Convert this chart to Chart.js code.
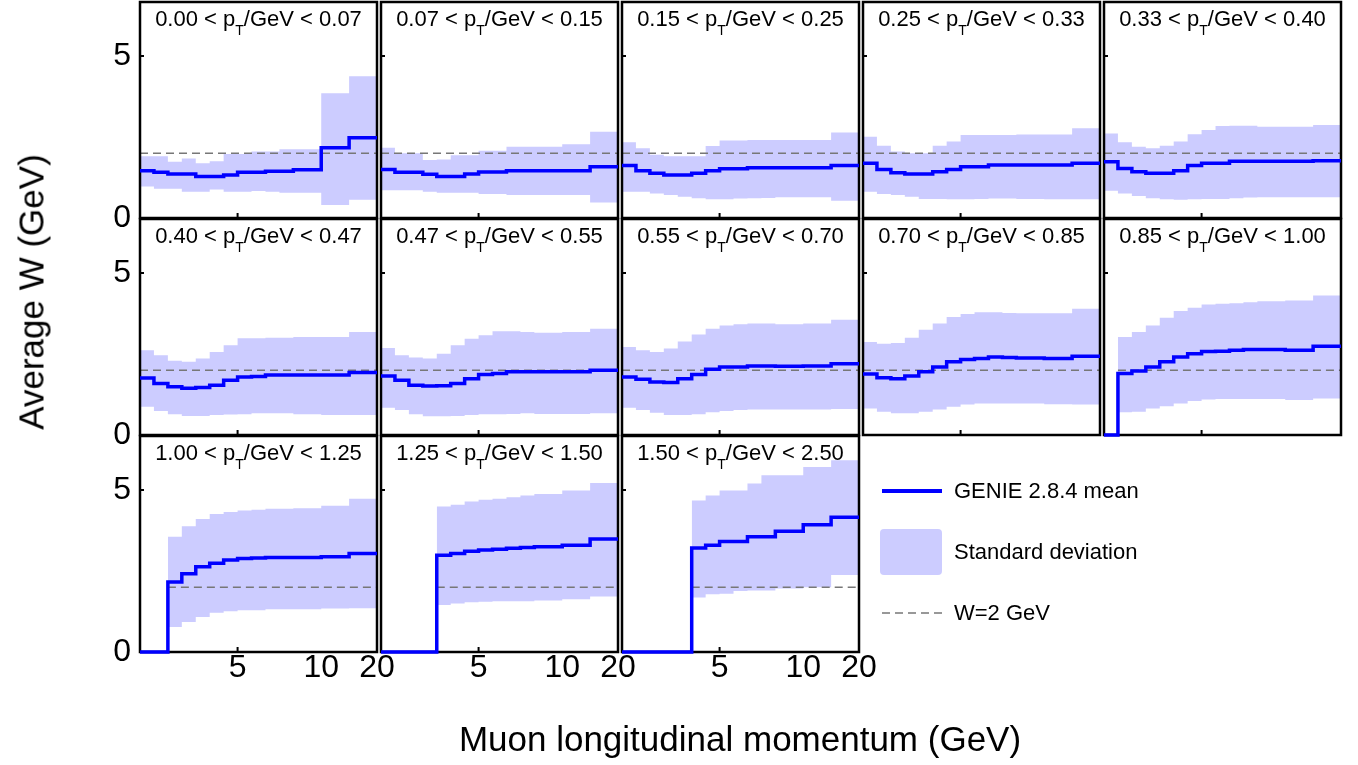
<!DOCTYPE html>
<html>
<head>
<meta charset="utf-8">
<script src="https://cdn.jsdelivr.net/npm/chart.js@4.4.1/dist/chart.umd.min.js"></script>
<style>
  body { margin: 0; background: #fff; font-family: "Liberation Sans", Arial, sans-serif; }
  #wrap { position: relative; width: 1358px; height: 765px; overflow: hidden; }
  #wrap canvas { position: absolute; left: 0; top: 0; }
  .ptitle { position: absolute; text-align: center; font-size: 22px; line-height: 22px; white-space: nowrap; color: #000; }
  .ptitle .sub { font-size: 14px; vertical-align: -9px; }
  .axtitle { position: absolute; font-size: 35px; line-height: 1; white-space: nowrap; color: #000; }
  .legtext { position: absolute; font-size: 22px; line-height: 22px; white-space: nowrap; color: #000; }
</style>
</head>
<body>
<div id="wrap"></div>
<script>
// pT slices (GeV), one panel per slice
const ptEdges = ['0.00', '0.07', '0.15', '0.25', '0.33', '0.40', '0.47', '0.55', '0.70', '0.85', '1.00', '1.25', '1.50', '2.50'];
// p|| bin boundaries on the plotted (compressed) axis, 14 bins
const binEdges = [0, 1, 2, 3, 4, 5, 6, 7, 8, 9, 10, 11, 13, 15, 17];
const xTickValues = [7, 13, 17];
const xTickLabels = ['5', '10', '20'];
const yTickValues = [0, 5];
const wLine = 2; // W = 2 GeV reference

// GENIE mean W per p|| bin, one row per pT slice (0 = empty bin)
const meanW = [
  [1.46, 1.41, 1.36, 1.36, 1.28, 1.28, 1.33, 1.41, 1.41, 1.44, 1.44, 1.49, 2.17, 2.48],
  [1.50, 1.41, 1.41, 1.35, 1.28, 1.28, 1.36, 1.42, 1.42, 1.46, 1.46, 1.46, 1.46, 1.58],
  [1.62, 1.46, 1.38, 1.33, 1.33, 1.38, 1.46, 1.52, 1.52, 1.55, 1.55, 1.55, 1.55, 1.62],
  [1.69, 1.50, 1.40, 1.36, 1.36, 1.43, 1.50, 1.58, 1.58, 1.64, 1.64, 1.64, 1.64, 1.69],
  [1.74, 1.53, 1.43, 1.38, 1.38, 1.46, 1.62, 1.69, 1.69, 1.75, 1.75, 1.75, 1.75, 1.77],
  [1.76, 1.59, 1.49, 1.44, 1.47, 1.54, 1.69, 1.79, 1.81, 1.85, 1.85, 1.85, 1.85, 1.93],
  [1.82, 1.69, 1.54, 1.51, 1.52, 1.59, 1.74, 1.87, 1.90, 1.95, 1.95, 1.95, 1.95, 2.00],
  [1.79, 1.72, 1.64, 1.62, 1.74, 1.87, 2.03, 2.10, 2.10, 2.13, 2.13, 2.12, 2.13, 2.20],
  [1.88, 1.77, 1.74, 1.82, 1.95, 2.10, 2.26, 2.33, 2.36, 2.41, 2.39, 2.38, 2.36, 2.43],
  [0, 1.90, 1.98, 2.10, 2.26, 2.41, 2.51, 2.58, 2.59, 2.62, 2.64, 2.64, 2.62, 2.74],
  [0, 0, 2.16, 2.42, 2.63, 2.74, 2.84, 2.89, 2.90, 2.92, 2.92, 2.92, 2.94, 3.04],
  [0, 0, 0, 0, 2.99, 3.04, 3.11, 3.15, 3.17, 3.20, 3.23, 3.25, 3.30, 3.49],
  [0, 0, 0, 0, 0, 3.21, 3.30, 3.41, 3.41, 3.56, 3.56, 3.73, 3.93, 4.16]
];

// mean + 1 standard deviation
const sdHigh = [
  [1.91, 1.91, 1.74, 1.84, 1.69, 1.75, 1.98, 1.98, 2.05, 2.05, 2.12, 2.12, 3.85, 4.38],
  [2.17, 2.00, 2.00, 1.79, 1.81, 1.94, 1.94, 2.08, 2.08, 2.20, 2.20, 2.20, 2.28, 2.66],
  [2.34, 2.15, 1.95, 1.91, 1.91, 1.91, 2.22, 2.39, 2.39, 2.41, 2.41, 2.41, 2.41, 2.64],
  [2.51, 2.23, 2.05, 2.00, 2.00, 2.23, 2.36, 2.56, 2.56, 2.56, 2.56, 2.58, 2.58, 2.77],
  [2.61, 2.34, 2.20, 2.15, 2.23, 2.36, 2.59, 2.72, 2.84, 2.85, 2.85, 2.82, 2.82, 2.87],
  [2.62, 2.46, 2.29, 2.26, 2.36, 2.56, 2.77, 2.99, 2.99, 3.00, 3.00, 3.03, 3.03, 3.18],
  [2.69, 2.46, 2.39, 2.36, 2.51, 2.77, 2.97, 3.08, 3.20, 3.20, 3.18, 3.16, 3.18, 3.28],
  [2.72, 2.62, 2.56, 2.67, 2.89, 3.10, 3.28, 3.38, 3.42, 3.44, 3.44, 3.42, 3.44, 3.56],
  [2.87, 2.82, 2.84, 3.00, 3.25, 3.44, 3.64, 3.74, 3.79, 3.79, 3.77, 3.76, 3.76, 3.90],
  [null, 3.03, 3.18, 3.38, 3.62, 3.83, 3.93, 4.03, 4.05, 4.07, 4.10, 4.13, 4.15, 4.31],
  [null, null, 3.56, 3.88, 4.11, 4.26, 4.32, 4.37, 4.39, 4.42, 4.42, 4.44, 4.52, 4.73],
  [null, null, null, null, 4.49, 4.55, 4.65, 4.70, 4.73, 4.78, 4.83, 4.88, 4.99, 5.22],
  [null, null, null, null, null, 4.68, 4.83, 4.99, 4.99, 5.20, 5.46, 5.46, 5.71, 5.92]
];

// mean - 1 standard deviation
const sdLow = [
  [0.97, 0.90, 0.90, 0.81, 0.81, 0.88, 0.81, 0.81, 0.83, 0.81, 0.78, 0.78, 0.40, 0.56],
  [0.86, 0.86, 0.86, 0.81, 0.78, 0.78, 0.78, 0.74, 0.74, 0.71, 0.71, 0.71, 0.71, 0.48],
  [0.81, 0.81, 0.76, 0.71, 0.66, 0.61, 0.58, 0.58, 0.60, 0.61, 0.62, 0.64, 0.64, 0.53],
  [0.81, 0.74, 0.71, 0.66, 0.59, 0.59, 0.58, 0.58, 0.59, 0.60, 0.60, 0.59, 0.58, 0.58],
  [0.84, 0.76, 0.68, 0.61, 0.58, 0.56, 0.58, 0.59, 0.59, 0.61, 0.63, 0.64, 0.64, 0.64],
  [0.87, 0.74, 0.64, 0.59, 0.59, 0.62, 0.63, 0.64, 0.67, 0.67, 0.67, 0.64, 0.62, 0.62],
  [0.84, 0.77, 0.64, 0.58, 0.58, 0.59, 0.62, 0.64, 0.64, 0.65, 0.67, 0.65, 0.65, 0.67],
  [0.84, 0.77, 0.69, 0.62, 0.62, 0.64, 0.70, 0.74, 0.77, 0.79, 0.79, 0.79, 0.79, 0.80],
  [0.82, 0.72, 0.67, 0.67, 0.72, 0.79, 0.87, 0.94, 0.97, 0.97, 0.97, 0.97, 0.95, 0.94],
  [null, 0.70, 0.72, 0.82, 0.89, 0.97, 1.05, 1.10, 1.11, 1.11, 1.11, 1.11, 1.08, 1.13],
  [null, null, 0.77, 0.93, 1.08, 1.21, 1.26, 1.29, 1.29, 1.32, 1.32, 1.32, 1.34, 1.35],
  [null, null, null, null, 1.45, 1.50, 1.54, 1.55, 1.57, 1.57, 1.57, 1.59, 1.63, 1.71],
  [null, null, null, null, null, 1.68, 1.78, 1.80, 1.88, 1.90, 1.90, 1.96, 2.00, 2.38]
];

const PAGE_W = 1358, PAGE_H = 765;
const PANEL_W = 237, PANEL_H = 216;
const COL0 = 140, ROW0 = 2, COL_STEP = 241, ROW_STEP = 217;
const Y_MAX = 6.67;
const FONT = '"Liberation Sans", Arial, sans-serif';

const wrap = document.getElementById('wrap');

// histogram-style points: left edge of each bin, plus closing point at the last edge
function stepPoints(vals) {
  const pts = vals.map((v, i) => ({ x: binEdges[i], y: v }));
  pts.push({ x: binEdges[vals.length], y: vals[vals.length - 1] });
  return pts;
}

const panelFrame = {
  id: 'panelFrame',
  beforeDatasetDraw(chart, args) {
    if (args.index !== 0) return; // frame goes under the mean line
    const { ctx, chartArea: a, scales: { x, y } } = chart;
    ctx.save();
    ctx.strokeStyle = '#000';
    ctx.lineWidth = 2.5;
    ctx.strokeRect(a.left, a.top, a.width, a.height);
    ctx.lineWidth = 2;
    ctx.beginPath();
    const y5 = y.getPixelForValue(yTickValues[1]);
    ctx.moveTo(a.left, y5);
    ctx.lineTo(a.left + 4, y5);
    const x5 = x.getPixelForValue(xTickValues[0]);
    ctx.moveTo(x5, a.bottom);
    ctx.lineTo(x5, a.bottom - 5);
    ctx.stroke();
    ctx.restore();
  },
  afterDraw(chart, args, opts) {
    const { ctx, chartArea: a, scales: { x, y } } = chart;
    ctx.save();
    ctx.fillStyle = '#000';
    ctx.font = '32px ' + FONT;
    if (opts.showY) {
      ctx.textAlign = 'right';
      ctx.textBaseline = 'middle';
      yTickValues.forEach(v => ctx.fillText(String(v), a.left - 9, y.getPixelForValue(v)));
    }
    if (opts.showX) {
      ctx.textAlign = 'center';
      ctx.textBaseline = 'middle';
      xTickValues.forEach((v, i) => ctx.fillText(xTickLabels[i], x.getPixelForValue(v), a.bottom + 16));
    }
    ctx.restore();
  }
};

meanW.forEach((means, p) => {
  const col = p % 5, row = Math.floor(p / 5);
  const L = COL0 + col * COL_STEP, T = ROW0 + row * ROW_STEP;

  const cv = document.createElement('canvas');
  cv.width = PAGE_W;
  cv.height = PAGE_H;
  wrap.appendChild(cv);

  const firstFilled = sdHigh[p].findIndex(v => v !== null);

  new Chart(cv, {
    type: 'line',
    data: {
      datasets: [
        {
          data: stepPoints(means),
          borderColor: '#0000ff', borderWidth: 3.5, stepped: true,
          pointRadius: 0, fill: false, clip: false, order: 0
        },
        {
          data: [{ x: binEdges[firstFilled], y: wLine }, { x: binEdges[binEdges.length - 1], y: wLine }],
          borderColor: '#777777', borderWidth: 1.6, borderDash: [8, 5],
          pointRadius: 0, fill: false, order: 1
        },
        {
          data: stepPoints(sdHigh[p]),
          borderColor: 'transparent', borderWidth: 0, stepped: true,
          pointRadius: 0, fill: '+1', backgroundColor: 'rgb(204,204,255)', order: 2
        },
        {
          data: stepPoints(sdLow[p]),
          borderColor: 'transparent', borderWidth: 0, stepped: true,
          pointRadius: 0, fill: false, order: 3
        }
      ]
    },
    options: {
      responsive: false,
      animation: false,
      events: [],
      layout: { padding: { left: L, top: T, right: PAGE_W - L - PANEL_W, bottom: PAGE_H - T - PANEL_H } },
      scales: {
        x: { type: 'linear', min: 0, max: binEdges[binEdges.length - 1], display: false },
        y: { type: 'linear', min: 0, max: Y_MAX, display: false }
      },
      plugins: {
        legend: { display: false },
        tooltip: { enabled: false },
        panelFrame: { showY: col === 0, showX: row === 2 }
      }
    },
    plugins: [panelFrame]
  });

  const t = document.createElement('div');
  t.className = 'ptitle';
  t.style.left = L + 'px';
  t.style.top = (T + 6) + 'px';
  t.style.width = PANEL_W + 'px';
  t.innerHTML = ptEdges[p] + ' &lt; p<span class="sub">T</span>/GeV &lt; ' + ptEdges[p + 1];
  wrap.appendChild(t);
});

// axis titles
const yTitle = document.createElement('div');
yTitle.className = 'axtitle';
yTitle.textContent = 'Average W (GeV)';
yTitle.style.left = '31px';
yTitle.style.top = '292px';
yTitle.style.transform = 'translate(-50%, -50%) rotate(-90deg)';
wrap.appendChild(yTitle);

const xTitle = document.createElement('div');
xTitle.className = 'axtitle';
xTitle.textContent = 'Muon longitudinal momentum (GeV)';
xTitle.style.left = '740px';
xTitle.style.top = '738px';
xTitle.style.transform = 'translate(-50%, -50%)';
wrap.appendChild(xTitle);

// legend
const legend = document.createElement('div');
legend.innerHTML =
  '<div style="position:absolute;left:882px;top:489px;width:60px;height:3.5px;background:#0000ff"></div>' +
  '<div style="position:absolute;left:880px;top:529px;width:62px;height:46px;background:rgb(204,204,255);border-radius:4px"></div>' +
  '<svg style="position:absolute;left:882px;top:611px" width="60" height="4"><line x1="0" y1="2" x2="60" y2="2" stroke="#777777" stroke-width="1.6" stroke-dasharray="8 5"/></svg>' +
  '<div class="legtext" style="left:954px;top:480px">GENIE 2.8.4 mean</div>' +
  '<div class="legtext" style="left:954px;top:541px">Standard deviation</div>' +
  '<div class="legtext" style="left:954px;top:602px">W=2 GeV</div>';
wrap.appendChild(legend);
</script>
</body>
</html>
